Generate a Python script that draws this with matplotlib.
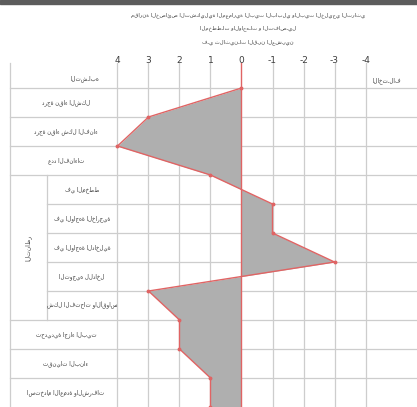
import matplotlib
matplotlib.use("Agg")
import matplotlib.pyplot as plt
from matplotlib.patches import Rectangle

# ---------------- data ----------------
title_lines = [
    "مقارنة الخصائص التشكيلية المعمارية البيت البابلي والبيت الخليجي التراثي",
    "المخططـات والواجهـات و التفاصـيل",
    "فـي ثلاثينـات القـرن العشـرين",
]
tick_values = [4, 3, 2, 1, 0, -1, -2, -3, -4]
tick_labels = ["4", "3", "2", "1", "0", "-1", "-2", "-3", "-4"]
header_left = "التشـابه"
header_right = "الاختـلاف"
row_labels = [
    "درجة نقاء الشكل",
    "درجة نقاء شكل الفناء",
    "عدد الفناءات",
    "في المخطط",
    "في الواجهة الخارجية",
    "في الواجهة الداخلية",
    "التوجيه للداخل",
    "شكل الفتحات والأقواس",
    "تحديدية اجزاء البيت",
    "تقنيات البناء",
    "استخدام الاعمدة والشرفات",
]
group_label = "التناظر"
group_rows = [3, 4, 5, 6, 7]
# value at each row boundary (0 = top of first row ... 11 = bottom)
boundary_index = [0, 1, 2, 3, 4, 5, 6, 7, 8, 9, 10, 11]
boundary_value = [0, 3, 4, 1, -1, -1, -3, 3, 2, 2, 1, 1]

# ---------------- figure ----------------
W, H = 417, 407
fig = plt.figure(figsize=(W / 100, H / 100), dpi=100)
ax = fig.add_axes([0, 0, 1, 1])
ax.set_axis_off()

PX0, PXS = 241.5, 31.0       # pixel of value 0, pixels per unit
PY0, PYS = 88.0, 29.0        # pixel of boundary 0, pixels per row
ax.set_xlim(PX0 / PXS, (PX0 - W) / PXS)
ax.set_ylim((H - PY0) / PYS, -PY0 / PYS)


def vx(px):
    return (PX0 - px) / PXS


def iy(py):
    return (py - PY0) / PYS


grid_c = '#cdcdcd'
red = '#e06464'
txt_c = '#3c3c3c'
nrows = len(row_labels)
ytop = iy(63)
ybot = iy(H)

# top dark bar
fig.add_artist(Rectangle((0, 1 - 4 / H), 1, 4 / H, transform=fig.transFigure,
                         color='#5c5c5c', zorder=5))

# vertical grid lines
for v in tick_values:
    if v != 0:
        ax.plot([v, v], [ytop, ybot], color=grid_c, lw=0.9, zorder=1)
ax.plot([vx(10), vx(10)], [ytop, ybot], color=grid_c, lw=0.9, zorder=1)
ax.plot([vx(47), vx(47)], [group_rows[0], group_rows[-1] + 1], color=grid_c, lw=0.9, zorder=1)
# horizontal lines
for b in range(nrows):
    x_start = vx(47) if (b - 1 in group_rows and b in group_rows) else vx(10)
    ax.plot([x_start, vx(W)], [b, b], color=grid_c, lw=0.9, zorder=1)

# data polygon
ax.fill_betweenx(boundary_index, 0, boundary_value, color='#afafaf', zorder=2, lw=0)
ax.plot(boundary_value, boundary_index, color=red, lw=1.0, zorder=3,
        marker='o', markersize=1.8)
ax.plot([0, 0], [ytop, ybot], color=red, lw=1.0, zorder=3)

# tick labels
for v, lab in zip(tick_values, tick_labels):
    ax.text(v, iy(60), lab, ha='center', va='center', fontsize=6.5, color=txt_c)

# title
for k, line in enumerate(title_lines):
    ax.text(vx(248), iy(15 + 13.5 * k), line, ha='center', va='center',
            fontsize=3.8, color=txt_c)

# headers
ax.text(vx(85), iy(79), header_left, ha='center', va='center', fontsize=4.0, color=txt_c)
ax.text(vx(387), iy(81), header_right, ha='center', va='center', fontsize=4.0, color=txt_c)

# row labels
for r, lab in enumerate(row_labels):
    xc = vx(82) if r in group_rows else vx(66)
    ax.text(xc, r + 0.5, lab, ha='center', va='center', fontsize=4.0, color=txt_c)
ax.text(vx(28), (group_rows[0] + group_rows[-1] + 1) / 2, group_label, rotation=90,
        ha='center', va='center', fontsize=4.3, color=txt_c)

fig.savefig('out.png', dpi=100)
